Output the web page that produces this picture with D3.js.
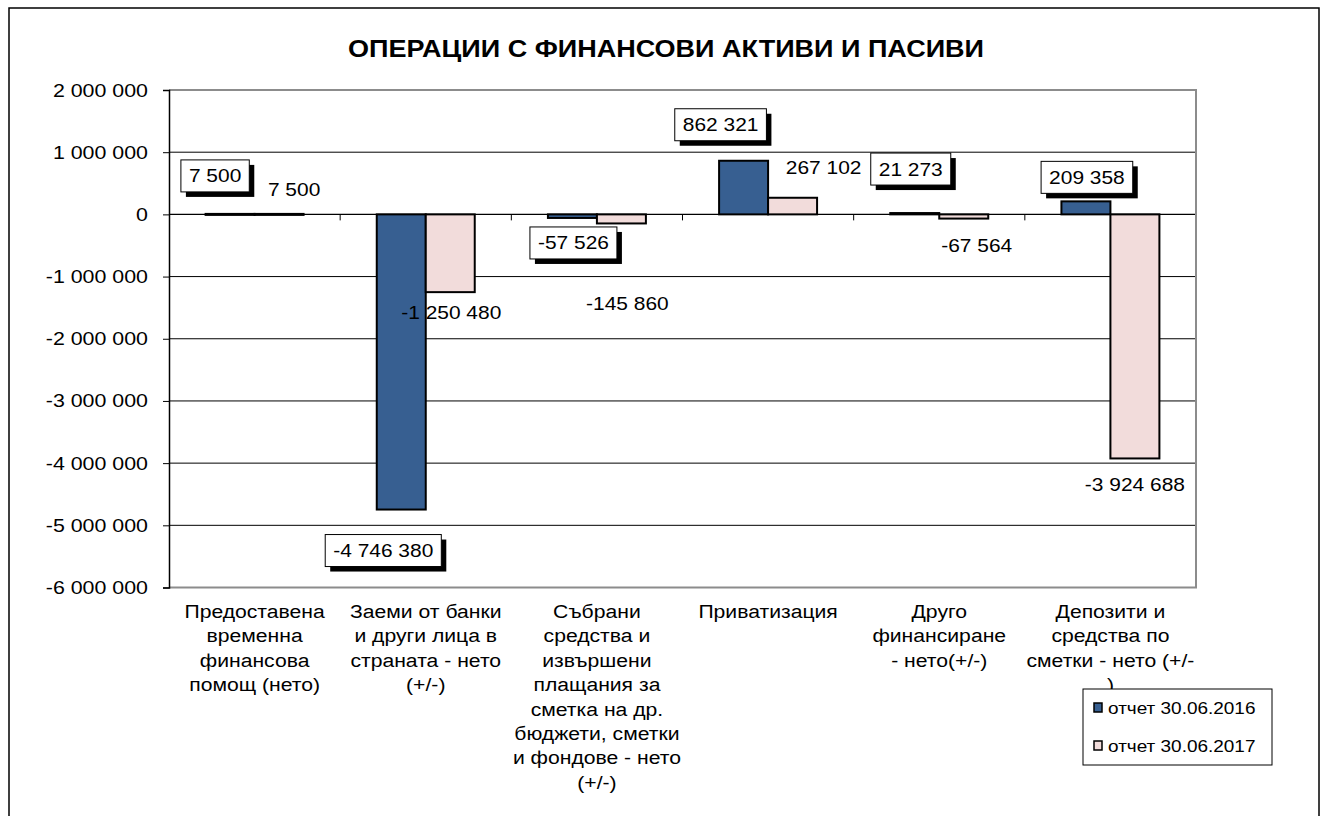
<!DOCTYPE html>
<html><head><meta charset="utf-8">
<script src="https://cdn.jsdelivr.net/npm/d3@7"></script>
<style>body{margin:0;background:#fff}svg{display:block}text{font-family:"Liberation Sans",Arial,sans-serif;fill:#000}</style>
</head><body>
<script>
const title = "ОПЕРАЦИИ С ФИНАНСОВИ АКТИВИ И ПАСИВИ";
const categories = ["cat1","cat2","cat3","cat4","cat5","cat6"];
const categoryLines = [
  ["Предоставена","временна","финансова","помощ (нето)"],
  ["Заеми от банки","и други лица в","страната - нето","(+/-)"],
  ["Събрани","средства и","извършени","плащания за","сметка на др.","бюджети, сметки","и фондове - нето","(+/-)"],
  ["Приватизация"],
  ["Друго","финансиране","- нето(+/-)"],
  ["Депозити и","средства по","сметки - нето (+/-",")"]
];
const seriesNames = ["отчет 30.06.2016","отчет 30.06.2017"];
const values2016 = [7500, -4746380, -57526, 862321, 21273, 209358];
const values2017 = [7500, -1250480, -145860, 267102, -67564, -3924688];
const yTicks = [2000000,1000000,0,-1000000,-2000000,-3000000,-4000000,-5000000,-6000000];

// label placement offsets (px) relative to bar end, as in the original
const labelOffset2016 = [[-15,-38],[-18,41],[1,25],[-23,-36],[-4,-44],[1,-24]];
const labelOffset2017 = [[15,-24],[1,20],[6,80],[31,-30],[13,27],[0,26]];

const W = 1324, H = 816, SX = 1.15;
const colors = ["#375f91", "#f2dcdb"];
const fmt = v => d3.format(",")(v).replace(/,/g, " ").replace("−","-");

const svg = d3.select("body").append("svg").attr("width", W).attr("height", H);
svg.append("rect").attr("x",9).attr("y",8).attr("width",1310).attr("height",830)
  .attr("fill","none").attr("stroke","#000").attr("stroke-width",1.5);

function stext(g, x, y, str, size, anchor, weight) {
  return g.append("text").attr("transform", `translate(${x},${y}) scale(${SX},1)`)
    .attr("font-size", size).attr("text-anchor", anchor || "middle")
    .attr("font-weight", weight || "normal").text(str);
}

stext(svg, 666, 57, title, 23.5, "middle", "bold");

const pL = 169, pR = 1196, pT = 90, pB = 587.5;
const x = d3.scaleBand().domain(categories).range([pL, pR]).paddingInner(0).paddingOuter(0);
const y = d3.scaleLinear().domain([-6000000, 2000000]).range([pB, pT]);
const inner = d3.scaleBand().domain([0,1]).range([0, x.bandwidth()]).paddingInner(0).paddingOuter(0.747);

// gridlines
svg.append("g").selectAll("line").data(yTicks.filter(t => t !== 2000000 && t !== -6000000)).join("line")
  .attr("x1", pL).attr("x2", pR).attr("y1", d => y(d)).attr("y2", d => y(d))
  .attr("stroke", "#000").attr("stroke-width", d => d === 0 ? 1.3 : 1);
// plot border (top, right, bottom)
svg.append("path").attr("d", `M${pL},${y(2000000)}H${pR}V${y(-6000000)}H${pL}`)
  .attr("fill","none").attr("stroke","#8c8c8c").attr("stroke-width",2);

// y axis
const yAxis = svg.append("g").attr("transform", `translate(${pL},0)`)
  .call(d3.axisLeft(y).tickValues(yTicks).tickSize(6).tickFormat(fmt));
yAxis.select(".domain").attr("stroke","#000").attr("stroke-width",1.5);
yAxis.selectAll(".tick line").attr("stroke","#000");
yAxis.selectAll(".tick text").remove();
yAxis.selectAll(".tick").each(function(d){
  stext(d3.select(this), -21, 6, fmt(d), 18.6, "end");
});

// category ticks on zero line
svg.append("g").selectAll("line").data(categories.slice(1)).join("line")
  .attr("x1", d => x(d)).attr("x2", d => x(d)).attr("y1", y(0)).attr("y2", y(0) + 6)
  .attr("stroke", "#000").attr("stroke-width", 1);

// bars
const seriesVals = [values2016, values2017];
seriesVals.forEach((vals, s) => {
  svg.append("g").selectAll("rect").data(vals).join("rect")
    .attr("x", (d, i) => x(categories[i]) + inner(s))
    .attr("width", inner.bandwidth())
    .attr("y", d => Math.min(y(d), y(0)))
    .attr("height", d => Math.max(1, Math.abs(y(d) - y(0))))
    .attr("fill", colors[s]).attr("stroke", "#000").attr("stroke-width", 2);
});

// labels 2016 (boxed with shadow)
values2016.forEach((v, i) => {
  const cx = x(categories[i]) + inner(0) + inner.bandwidth()/2 + labelOffset2016[i][0];
  const cy = y(v) + labelOffset2016[i][1];
  const g = svg.append("g");
  const t = stext(g, cx, cy + 6.5, fmt(v), 18.2, "middle");
  const w = t.node().getComputedTextLength() * SX + 16;
  const h = 32;
  g.insert("rect", "text").attr("x", cx - w/2 + 5).attr("y", cy - h/2 + 5).attr("width", w).attr("height", h).attr("fill", "#000");
  g.insert("rect", "text").attr("x", cx - w/2).attr("y", cy - h/2).attr("width", w).attr("height", h)
    .attr("fill", "#fff").attr("stroke", "#000").attr("stroke-width", 1);
});
// labels 2017 (plain)
values2017.forEach((v, i) => {
  const cx = x(categories[i]) + inner(1) + inner.bandwidth()/2 + labelOffset2017[i][0];
  const cy = y(v) + labelOffset2017[i][1];
  stext(svg, cx, cy + 6.5, fmt(v), 18.2, "middle");
});

// category labels
categories.forEach((c, i) => {
  const cx = x(c) + x.bandwidth()/2;
  categoryLines[i].forEach((ln, j) => stext(svg, cx, 618 + j * 24.4, ln, 18.4, "middle"));
});

// legend
const lg = svg.append("g");
lg.append("rect").attr("x", 1083).attr("y", 689).attr("width", 189).attr("height", 76)
  .attr("fill", "#fff").attr("stroke", "#000").attr("stroke-width", 1);
seriesNames.forEach((n, i) => {
  const yy = 708 + i * 38;
  lg.append("rect").attr("x", 1094).attr("y", yy - 5).attr("width", 8).attr("height", 9)
    .attr("fill", colors[i]).attr("stroke", "#000").attr("stroke-width", 1.5);
  stext(lg, 1108, yy + 6, n, 16.5, "start");
});
</script>
</body></html>
